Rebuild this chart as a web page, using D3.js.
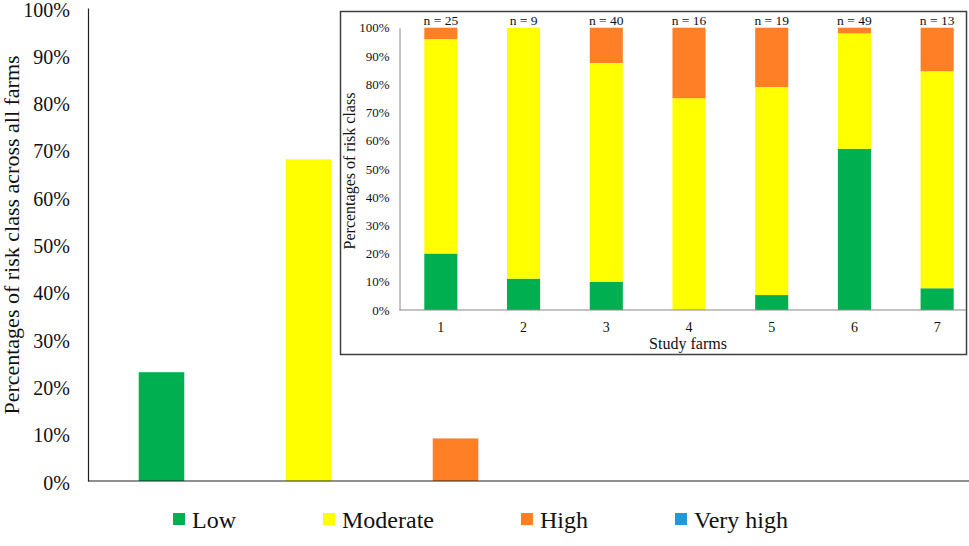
<!DOCTYPE html>
<html>
<head>
<meta charset="utf-8">
<script src="https://cdn.jsdelivr.net/npm/d3@7"></script>
<style>
  body { margin: 0; background: #fff; }
  svg { display: block; }
  svg text { font-family: "Liberation Serif", "Times New Roman", Times, "DejaVu Serif", serif; }
</style>
</head>
<body>
<script>
// overall share of each risk class (all farms pooled)
const riskClasses = ["Low", "Moderate", "High", "Very high"];
const overallPct = [23, 68, 9, 0];
const classColors = ["#00b050", "#ffff00", "#ff7f27", "#1f9ad6"];

// inset: per farm
const farms = ["1", "2", "3", "4", "5", "6", "7"];
const farmN = [25, 9, 40, 16, 19, 49, 13];
const lowPct = [20, 11.1, 10, 0, 5.3, 57.1, 7.7];
const moderatePct = [76, 88.9, 77.5, 75, 73.7, 40.9, 76.9];
const highPct = [4, 0, 12.5, 25, 21, 2, 15.4];
const yTicks = [0, 10, 20, 30, 40, 50, 60, 70, 80, 90, 100];

const width = 969, height = 546;
const svg = d3.select("body").append("svg")
  .attr("width", width).attr("height", height);

// ---- main chart ----
const y = d3.scaleLinear().domain([0, 100]).range([481, 8]);
const x = d3.scaleBand().domain(riskClasses).range([88, 676]);
const barW = x.bandwidth() * 0.31;

svg.selectAll("rect.main")
  .data(riskClasses)
  .enter().append("rect")
  .attr("class", "main")
  .attr("x", d => x(d) + (x.bandwidth() - barW) / 2)
  .attr("width", barW)
  .attr("y", (d, i) => y(overallPct[i]))
  .attr("height", (d, i) => y(0) - y(overallPct[i]))
  .attr("fill", (d, i) => classColors[i]);

const yAxis = svg.append("g")
  .attr("transform", "translate(88,0)")
  .call(d3.axisLeft(y).tickValues(yTicks).tickSize(0).tickSizeOuter(0)
    .tickPadding(18).tickFormat(d => d + "%"));
yAxis.select(".domain").attr("stroke", "#222").attr("stroke-width", 1.2);
yAxis.selectAll("text").attr("font-size", 20).attr("fill", "#111").attr("dy", "0.4em");

svg.append("line")
  .attr("x1", 88).attr("x2", 969)
  .attr("y1", y(0)).attr("y2", y(0))
  .attr("stroke", "#222").attr("stroke-width", 1.2);

svg.append("text")
  .attr("transform", "translate(19,235) rotate(-90)")
  .attr("text-anchor", "middle")
  .attr("font-size", 22)
  .attr("fill", "#111")
  .text("Percentages of risk class across all farms");

// legend
let lx = 173;
const legend = svg.append("g");
riskClasses.forEach((c, i) => {
  legend.append("rect")
    .attr("x", lx).attr("y", 513).attr("width", 12).attr("height", 12)
    .attr("fill", classColors[i]);
  const t = legend.append("text")
    .attr("x", lx + 19).attr("y", 528)
    .attr("font-size", 24).attr("fill", "#111")
    .text(c);
  lx += 19 + t.node().getComputedTextLength() + 87;
});

// ---- inset ----
const inset = svg.append("g");
inset.append("rect")
  .attr("x", 340.5).attr("y", 11.5).attr("width", 626).attr("height", 343)
  .attr("fill", "#fff").attr("stroke", "#404040").attr("stroke-width", 1.5);

const iy = d3.scaleLinear().domain([0, 100]).range([310, 27.7]);
const ix = d3.scaleBand().domain(farms).range([399.5, 978.5]);
const ibw = ix.bandwidth() * 0.4;

const stack = d3.stack().keys(["low", "moderate", "high"])(
  farms.map((f, i) => ({ farm: f, low: lowPct[i], moderate: moderatePct[i], high: highPct[i] }))
);

inset.selectAll("g.layer")
  .data(stack)
  .enter().append("g")
  .attr("class", "layer")
  .attr("fill", (d, i) => classColors[i])
  .selectAll("rect")
  .data(d => d)
  .enter().append("rect")
  .attr("x", d => ix(d.data.farm) + (ix.bandwidth() - ibw) / 2)
  .attr("width", ibw)
  .attr("y", d => iy(d[1]))
  .attr("height", d => iy(d[0]) - iy(d[1]));

const iyAxis = inset.append("g")
  .attr("transform", "translate(399.5,0)")
  .call(d3.axisLeft(iy).tickValues(yTicks).tickSize(0).tickSizeOuter(0)
    .tickPadding(10).tickFormat(d => d + "%"));
iyAxis.select(".domain").attr("stroke", "#888");
iyAxis.selectAll("text").attr("font-size", 13).attr("fill", "#111");

const ixAxis = inset.append("g")
  .attr("transform", "translate(0,310)")
  .call(d3.axisBottom(ix).tickSize(0).tickPadding(12));
ixAxis.select(".domain").remove();
ixAxis.selectAll("text").attr("font-size", 14).attr("fill", "#111");

inset.append("line")
  .attr("x1", 399.5).attr("x2", 966)
  .attr("y1", 310).attr("y2", 310)
  .attr("stroke", "#888");

inset.selectAll("text.n")
  .data(farms)
  .enter().append("text")
  .attr("class", "n")
  .attr("x", d => ix(d) + ix.bandwidth() / 2)
  .attr("y", 25)
  .attr("text-anchor", "middle")
  .attr("font-size", 13.5)
  .attr("fill", "#111")
  .text((d, i) => "n = " + farmN[i]);

inset.append("text")
  .attr("x", 688).attr("y", 349)
  .attr("text-anchor", "middle")
  .attr("font-size", 16)
  .attr("fill", "#111")
  .text("Study farms");

inset.append("text")
  .attr("transform", "translate(355,171) rotate(-90)")
  .attr("text-anchor", "middle")
  .attr("font-size", 16)
  .attr("fill", "#111")
  .text("Percentages of risk class");
</script>
</body>
</html>
